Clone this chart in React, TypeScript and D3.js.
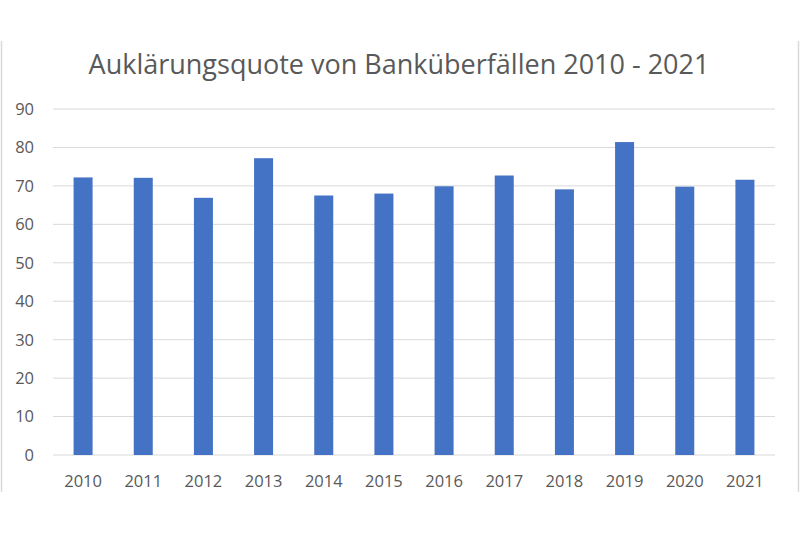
import React, { useEffect, useRef } from 'react';
import * as d3 from 'd3';

const years = ['2010', '2011', '2012', '2013', '2014', '2015', '2016', '2017', '2018', '2019', '2020', '2021'];
const quote = [72.2, 72.1, 66.9, 77.2, 67.5, 68.0, 69.9, 72.7, 69.1, 81.4, 69.8, 71.6];
const yTicks = [0, 10, 20, 30, 40, 50, 60, 70, 80, 90];
const title = 'Auklärungsquote von Banküberfällen 2010 - 2021';

const App: React.FC = () => {
  const svgRef = useRef<SVGSVGElement>(null);

  useEffect(() => {
    if (!svgRef.current) return;
    const svg = d3.select(svgRef.current);
    svg.selectAll('*').remove();

    const width = 800;
    const height = 534;
    const margin = { top: 109, right: 25, bottom: 79, left: 53 };
    const font = "'Open Sans', 'Noto Sans', sans-serif";
    const textColor = '#595959';

    svg.attr('width', width).attr('height', height);

    svg.append('rect')
      .attr('width', width).attr('height', height)
      .attr('fill', '#fff');

    // chart frame edges
    svg.append('line')
      .attr('x1', 1.5).attr('x2', 1.5).attr('y1', 41).attr('y2', 492)
      .attr('stroke', '#d9d9d9').attr('stroke-width', 1.5);
    svg.append('line')
      .attr('x1', 798.5).attr('x2', 798.5).attr('y1', 41).attr('y2', 492)
      .attr('stroke', '#d9d9d9').attr('stroke-width', 1.5);

    const x = d3.scaleBand()
      .domain(years)
      .range([margin.left, width - margin.right])
      .paddingInner(0.684)
      .paddingOuter(0.342);

    const y = d3.scaleLinear()
      .domain([0, 90])
      .range([height - margin.bottom, margin.top]);

    // grid lines
    svg.append('g')
      .selectAll('line')
      .data(yTicks)
      .enter()
      .append('line')
      .attr('x1', margin.left)
      .attr('x2', width - margin.right)
      .attr('y1', d => y(d))
      .attr('y2', d => y(d))
      .attr('stroke', '#d9d9d9')
      .attr('stroke-width', 1);

    // bars
    svg.append('g')
      .selectAll('rect')
      .data(quote)
      .enter()
      .append('rect')
      .attr('x', (_, i) => x(years[i])!)
      .attr('y', d => y(d))
      .attr('width', x.bandwidth())
      .attr('height', d => y(0) - y(d))
      .attr('fill', '#4472c4');

    // y labels
    svg.append('g')
      .selectAll('text')
      .data(yTicks)
      .enter()
      .append('text')
      .attr('x', 34)
      .attr('y', d => y(d))
      .attr('dy', '0.36em')
      .attr('text-anchor', 'end')
      .attr('font-family', font)
      .attr('font-size', 16.5)
      .attr('fill', textColor)
      .text(d => d);

    // x labels
    svg.append('g')
      .selectAll('text')
      .data(years)
      .enter()
      .append('text')
      .attr('x', d => x(d)! + x.bandwidth() / 2)
      .attr('y', 487)
      .attr('text-anchor', 'middle')
      .attr('font-family', font)
      .attr('font-size', 16.5)
      .attr('fill', textColor)
      .text(d => d);

    svg.append('text')
      .attr('x', 399)
      .attr('y', 74)
      .attr('text-anchor', 'middle')
      .attr('font-family', font)
      .attr('font-size', 27)
      .attr('fill', textColor)
      .text(title);
  }, []);

  return <svg ref={svgRef} style={{ display: 'block', position: 'absolute', left: 0, top: 0 }} />;
};

export default App;
